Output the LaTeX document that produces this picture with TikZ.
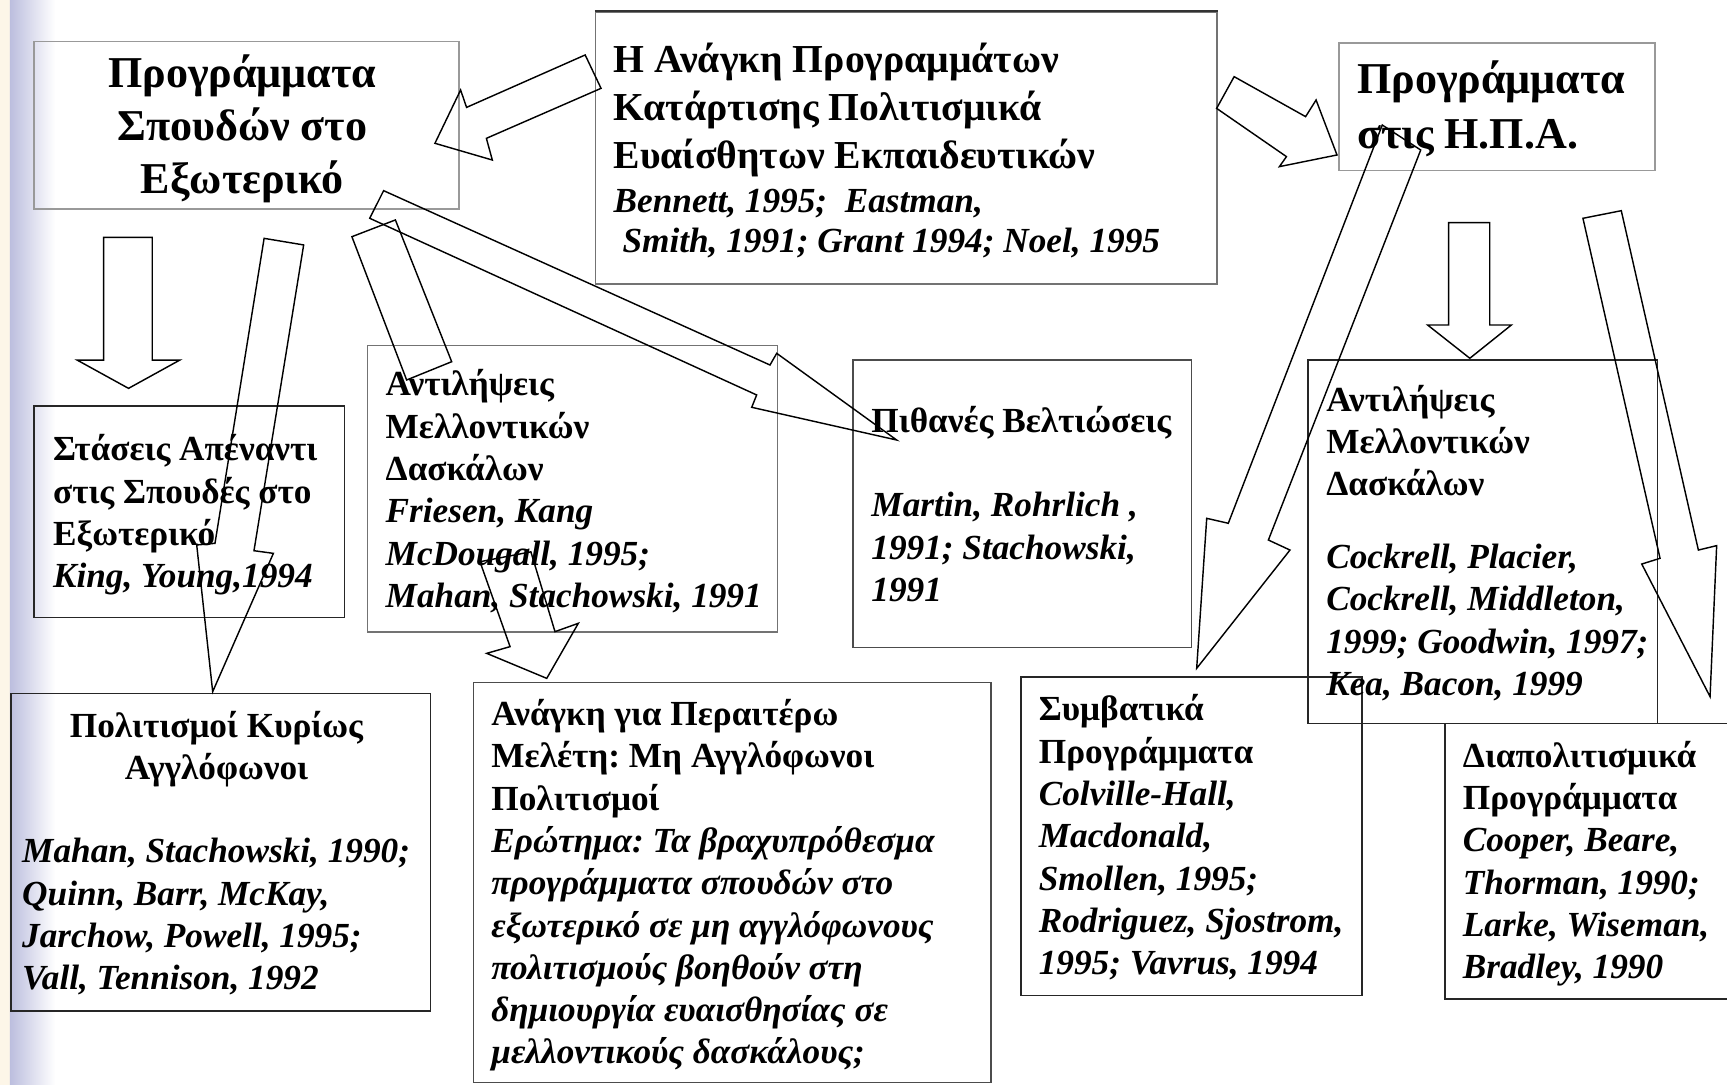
\documentclass[tikz,border=0pt]{standalone}
\usepackage{fontspec}
\setmainfont{Liberation Serif}
\definecolor{cream}{RGB}{253,246,232}
\definecolor{lav}{RGB}{188,190,222}
\begin{document}
\frenchspacing
% note: for multi-line nodes the "base" anchor is the baseline of the LAST line
\begin{tikzpicture}[x=1pt,y=-1pt,
  frame/.style={draw=#1, line width=1.5pt, inner sep=0pt, anchor=north west},
  blk/.style={draw=black, line width=1.3pt, line join=miter},
  txt/.style={font=\fontsize{32}{38.4}\selectfont\bfseries, align=left, anchor=base west, inner sep=0pt},
  big/.style={font=\fontsize{40}{48.5}\selectfont\bfseries, inner sep=0pt},
  mid/.style={font=\fontsize{36}{43.5}\selectfont\bfseries, align=left, anchor=base west, inner sep=0pt}]
\clip (0,0) rectangle (1568,985);
\fill[white] (0,0) rectangle (1568,985);
\fill[cream] (0,0) rectangle (9,985);
\shade[left color=lav, right color=white] (9,0) rectangle (50,985);

% boxes
\node[frame=black!40, minimum width=386pt, minimum height=152pt] (A) at (30,37) {};
\node[frame=black!55, minimum width=564pt, minimum height=247pt] (B) at (540,10) {};
\draw[black!80, line width=1.5pt] (B.north west) -- (B.north east);
\node[frame=black!40, minimum width=287pt, minimum height=116pt] (C) at (1215,38) {};
\node[frame=black!85, minimum width=282pt, minimum height=192pt] (D) at (30,368) {};
\node[frame=black!55, minimum width=372pt, minimum height=260pt] (E) at (333,313) {};
\node[frame=black!70, minimum width=307pt, minimum height=261pt] (F) at (774,326) {};
\node[frame=black!85, minimum width=317pt, minimum height=330pt] (G) at (1187,326) {};
\node[frame=black!85, minimum width=381pt, minimum height=288pt] (H) at (9,629) {};
\node[frame=black!70, minimum width=470pt, minimum height=363pt] (I) at (429,619) {};
\node[frame=black!85, minimum width=310pt, minimum height=289pt] (J) at (926,614) {};
\node[frame=black!85, minimum width=290pt, minimum height=250pt] (K) at (1311,656) {};

% block arrows
\draw[blk] (531.3,49.9) -- (423.6,97.5) -- (418.2,81.7) -- (394.9,130.1) -- (447,145.3) -- (441.6,125.6) -- (545.7,80.2) -- cycle;
\draw[blk] (1120.5,69.6) -- (1185.4,105.9) -- (1194.9,90.8) -- (1213.9,140.7) -- (1161.6,151.3) -- (1168,142.2) -- (1104.6,98.4) -- cycle;
\draw[blk] (94.1,215.5) -- (138.2,215.5) -- (138.2,326.9) -- (163.3,326.9) -- (116.7,352.6) -- (70,326.9) -- (94.1,326.9) -- cycle;
\draw[blk] (239.8,216.4) -- (275.7,222.4) -- (230.6,500) -- (248.2,502.4) -- (193.1,628) -- (178.6,494.8) -- (195.2,493.3) -- cycle;
\draw[blk] (319.5,214.9) -- (359,199.7) -- (410.1,328.4) -- (369.2,345) -- cycle;
\draw[blk] (348.3,173.1) -- (699.1,331.4) -- (705.2,320.8) -- (814.1,399.5) -- (682.5,369.8) -- (687,358.6) -- (335.7,198.2) -- cycle;
\draw[blk] (435.8,510) -- (482,501) -- (503.9,573.5) -- (525.1,565.9) -- (496.4,615.9) -- (441.9,593.2) -- (463.1,587.1) -- cycle;
\draw[blk] (1255,113.5) -- (1289.9,136.2) -- (1151.6,490.3) -- (1171.2,499.4) -- (1086.5,606.8) -- (1095.6,470.6) -- (1115.2,475.1) -- cycle;
\draw[blk] (1315.2,202.2) -- (1352.6,202.2) -- (1352.6,295.1) -- (1372.2,295.1) -- (1334.5,325.3) -- (1296.2,295.1) -- (1315.2,295.1) -- cycle;
\draw[blk] (1437.2,198.2) -- (1472,191.3) -- (1542,499.4) -- (1558.6,495.4) -- (1552.6,632.5) -- (1490.6,512.1) -- (1507.2,506.9) -- cycle;

% texts (positions are the baselines of the last lines)
\node[big, align=center, anchor=base] (tA) at (220,176) {Προγράμματα\\Σπουδών στο\\Εξωτερικό};
\node[mid] (tB1) at (557,153) {Η Ανάγκη Προγραμμάτων\\Κατάρτισης Πολιτισμικά\\Ευαίσθητων Εκπαιδευτικών};
\node[txt, font=\fontsize{32}{37}\selectfont\bfseries\itshape] (tB2) at (557,229.5) {Bennett, 1995;\ \ Eastman,\\\hspace*{8pt}Smith, 1991; Grant 1994; Noel, 1995};
\node[big, align=left, anchor=base west, font=\fontsize{40}{50}\selectfont\bfseries] (tC) at (1232,135) {Προγράμματα\\στις Η.Π.Α.};
\node[txt] (tD) at (48,533.7) {Στάσεις Απέναντι\\στις Σπουδές στο\\Εξωτερικό\\\textit{King, Young,1994}};
\node[txt] (tE) at (350,551.5) {Αντιλήψεις\\Μελλοντικών\\Δασκάλων\\\textit{Friesen, Kang}\\\textit{McDougall, 1995;}\\\textit{Mahan, Stachowski, 1991}};
\node[txt] (tF) at (791,546) {Πιθανές Βελτιώσεις\\[38.4pt]\textit{Martin, Rohrlich ,}\\\textit{1991; Stachowski,}\\\textit{1991}};
\node[txt] (tG) at (1204,631.5) {Αντιλήψεις\\Μελλοντικών\\Δασκάλων\\[27.6pt]\textit{Cockrell, Placier,}\\\textit{Cockrell, Middleton,}\\\textit{1999; Goodwin, 1997;}\\\textit{Kea, Bacon, 1999}};
\node[txt, align=center, anchor=base] (tH1) at (196.5,708) {Πολιτισμοί Κυρίως\\Αγγλόφωνοι};
\node[txt] (tH2) at (20,898.5) {\textit{Mahan, Stachowski, 1990;}\\\textit{Quinn, Barr, McKay,}\\\textit{Jarchow, Powell, 1995;}\\\textit{Vall, Tennison, 1992}};
\node[txt] (tI) at (446,966) {Ανάγκη για Περαιτέρω\\Μελέτη: Μη Αγγλόφωνοι\\Πολιτισμοί\\\textit{Ερώτημα: Τα βραχυπρόθεσμα}\\\textit{προγράμματα σπουδών στο}\\\textit{εξωτερικό σε μη αγγλόφωνους}\\\textit{πολιτισμούς βοηθούν στη}\\\textit{δημιουργία ευαισθησίας σε}\\\textit{μελλοντικούς δασκάλους;}};
\node[txt] (tJ) at (943,885) {Συμβατικά\\Προγράμματα\\\textit{Colville-Hall,}\\\textit{Macdonald,}\\\textit{Smollen, 1995;}\\\textit{Rodriguez, Sjostrom,}\\\textit{1995; Vavrus, 1994}};
\node[txt] (tK) at (1328,888.5) {Διαπολιτισμικά\\Προγράμματα\\\textit{Cooper, Beare,}\\\textit{Thorman, 1990;}\\\textit{Larke, Wiseman,}\\\textit{Bradley, 1990}};
\end{tikzpicture}
\end{document}
